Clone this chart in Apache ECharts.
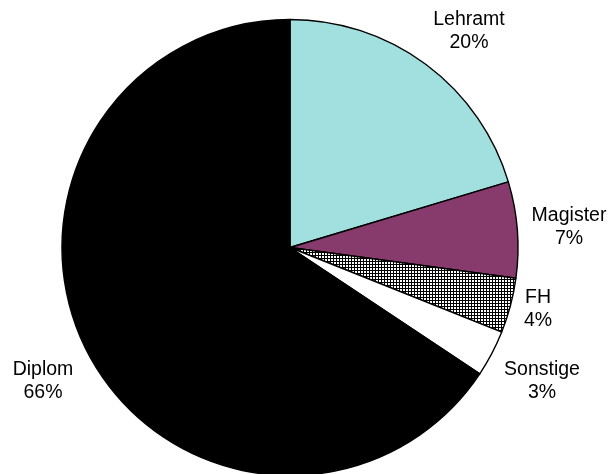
<!DOCTYPE html>
<html>
<head>
<meta charset="utf-8">
<script src="https://cdn.jsdelivr.net/npm/echarts@6/dist/echarts.min.js"></script>
<style>
  html, body { margin: 0; padding: 0; background: #fff; }
  #chart { width: 610px; height: 474px; }
</style>
</head>
<body>
<div id="chart"></div>
<script>
// Share of graduates by degree type (percent)
const categories = ['Lehramt', 'Magister', 'FH', 'Sonstige', 'Diplom'];
const shares = [20.35, 6.8, 3.9, 3.3, 65.65];

// Label block centres in pixels, one per category
const labelCentres = [
  [469, 31],
  [569, 227],
  [538, 309],
  [542, 381],
  [43, 381]
];

// Small black-on-white grid used as the FH fill
function gridPattern() {
  const c = document.createElement('canvas');
  c.width = 3; c.height = 3;
  const g = c.getContext('2d');
  g.fillStyle = '#ffffff';
  g.fillRect(0, 0, 3, 3);
  g.fillStyle = '#000000';
  g.fillRect(0, 0, 3, 1);
  g.fillRect(0, 0, 1, 3);
  return { image: c, repeat: 'repeat' };
}

const fills = ['#A2E0E0', '#873A6C', gridPattern(), '#ffffff', '#000000'];

const chart = echarts.init(document.getElementById('chart'), null, { renderer: 'canvas' });

chart.setOption({
  animation: false,
  backgroundColor: '#ffffff',
  series: [{
    type: 'pie',
    center: [290, 247.5],
    radius: 228,
    startAngle: 90,
    clockwise: true,
    silent: true,
    percentPrecision: 0,
    avoidLabelOverlap: false,
    itemStyle: { borderColor: '#000000', borderWidth: 1.4 },
    label: {
      show: true,
      position: 'outside',
      formatter: '{b}\n{d}%',
      color: '#000000',
      fontFamily: 'Liberation Sans, Arial, sans-serif',
      fontSize: 19.5,
      lineHeight: 23,
      align: 'center'
    },
    labelLine: { show: false },
    labelLayout: function (p) {
      const pos = labelCentres[p.dataIndex];
      return { x: pos[0], y: pos[1], align: 'center', verticalAlign: 'middle', hideOverlap: false };
    },
    emphasis: { disabled: true },
    data: categories.map((name, i) => ({
      name: name,
      value: shares[i],
      itemStyle: { color: fills[i] }
    }))
  }]
});
</script>
</body>
</html>
